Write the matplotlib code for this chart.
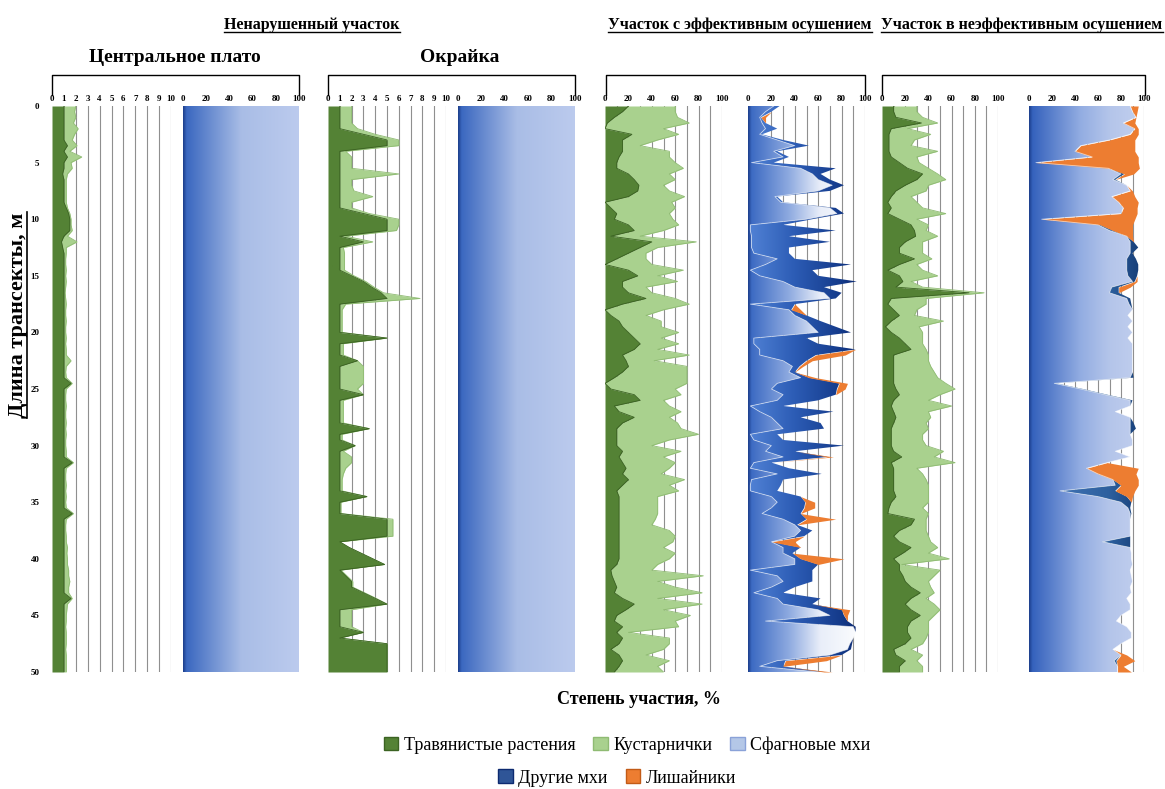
import numpy as np
import matplotlib.pyplot as plt
from matplotlib.colors import LinearSegmentedColormap
from matplotlib.patches import Patch
from matplotlib.lines import Line2D

plt.rcParams['font.family'] = ['Liberation Serif', 'DejaVu Serif']

# transect length, m (one reading every 0.5 m)
depth = np.arange(0, 50.5, 0.5)

# --- undisturbed site, central plateau (scale 0-10 %) ---
cp_herbs = [1.0, 1.0, 1.0, 1.0, 1.0, 1.0, 1.0, 1.3, 1.0, 1.3,
            1.0, 1.0, 0.9, 1.0, 1.0, 1.0, 1.0, 1.0, 1.2, 1.4,
            1.5, 1.5, 1.5, 1.0, 0.8, 0.9, 1.0, 1.0, 1.0, 1.0,
            1.0, 1.0, 1.0, 1.0, 1.0, 1.0, 1.0, 1.0, 1.0, 1.0,
            1.0, 1.0, 1.0, 1.0, 1.0, 1.0, 1.0, 1.0, 1.0, 1.6,
            1.0, 1.0, 1.0, 1.0, 1.0, 1.0, 1.0, 1.0, 1.0, 1.0,
            1.0, 1.0, 1.0, 1.7, 1.0, 1.0, 1.0, 1.0, 1.0, 1.0,
            1.0, 1.0, 1.7, 1.0, 1.0, 1.0, 1.0, 1.0, 1.0, 1.0,
            1.0, 1.0, 1.0, 1.0, 1.0, 1.0, 1.0, 1.6, 1.0, 1.0,
            1.0, 1.0, 1.0, 1.0, 1.0, 1.0, 1.0, 1.0, 1.0, 1.0,
            1.0]
cp_shrubs = [1.0, 0.9, 1.0, 0.8, 1.2, 0.9, 0.7, 0.8, 0.5, 1.2,
             0.6, 0.7, 0.4, 0.2, 0.2, 0.2, 0.2, 0.2, 0.1, 0.1,
             0.1, 0.1, 0.2, 0.3, 1.3, 0.3, 0.2, 0.15, 0.15, 0.2,
             0.15, 0.2, 0.15, 0.1, 0.15, 0.2, 0.15, 0.15, 0.2, 0.15,
             0.15, 0.2, 0.15, 0.2, 0.2, 0.6, 0.2, 0.15, 0.2, 0.1,
             0.2, 0.15, 0.15, 0.2, 0.15, 0.15, 0.2, 0.15, 0.2, 0.15,
             0.15, 0.2, 0.2, 0.1, 0.2, 0.15, 0.15, 0.2, 0.15, 0.2,
             0.15, 0.2, 0.1, 0.2, 0.15, 0.15, 0.2, 0.2, 0.3, 0.25,
             0.3, 0.3, 0.4, 0.4, 0.5, 0.4, 0.4, 0.1, 0.3, 0.25,
             0.2, 0.2, 0.15, 0.2, 0.2, 0.2, 0.15, 0.2, 0.2, 0.2,
             0.2]
cp_sphagnum = [100, 100, 100, 100, 100, 100, 100, 100, 100, 100,
               100, 100, 100, 100, 100, 100, 100, 100, 100, 100,
               100, 100, 100, 100, 100, 100, 100, 100, 100, 100,
               100, 100, 100, 100, 100, 100, 100, 100, 100, 100,
               100, 100, 100, 100, 100, 100, 100, 100, 100, 100,
               100, 100, 100, 100, 100, 100, 100, 100, 100, 100,
               100, 100, 100, 100, 100, 100, 100, 100, 100, 100,
               100, 100, 100, 100, 100, 100, 100, 100, 100, 100,
               100, 100, 100, 100, 100, 100, 100, 100, 100, 100,
               100, 100, 100, 100, 100, 100, 100, 100, 100, 100,
               100]

# --- undisturbed site, margin (scale 0-10 %) ---
ok_herbs = [1, 1, 1, 1, 1, 3, 5, 5, 1, 1,
            1, 1, 1, 1, 1, 1, 1, 1, 1, 3,
            5, 5, 5, 1, 3, 1, 1, 1, 1, 1,
            2, 3, 3.7, 4.5, 5, 1, 1, 1, 1, 1,
            1, 5, 1, 1, 1, 2.5, 1, 1, 1, 1,
            1, 3, 1, 1, 1, 1, 1, 3.5, 1, 1,
            2.3, 1, 1, 1, 1, 1, 1, 1, 1, 3.3,
            1, 1, 1, 5, 5, 5, 5, 1, 1.8, 2.8,
            3.8, 4.8, 1, 1.5, 2, 2, 3, 4, 5, 1,
            1, 1, 1, 3, 1, 5, 5, 5, 5, 5,
            5]
ok_shrubs = [1, 1, 1, 1, 1.5, 1, 1, 1, 0.5, 1,
             1, 1, 5, 1, 1, 1.2, 2.8, 1, 1, 0.5,
             1, 1, 0.8, 0.5, 0.8, 0.3, 0.4, 0.4, 0.4, 0.4,
             0.2, 0.2, 0.2, 0.2, 2.8, 0.5, 0.2, 0.2, 0.2, 0.2,
             0.2, 0, 0.3, 0.3, 0.3, 0, 2, 2, 2, 2,
             1.5, 0, 0.3, 0.3, 0.3, 0.3, 0.3, 0, 0.2, 0.2,
             0, 0.3, 1, 1, 0.5, 0.3, 0.2, 0.2, 0.2, 0,
             0.1, 0.1, 0.1, 0.5, 0.5, 0.5, 0.5, 0, 0, 0,
             0, 0, 0.1, 0.1, 0.1, 0.1, 0.1, 0.1, 0, 1,
             1, 1, 1, 0, 0, 0, 0, 0, 0, 0,
             0]
ok_sphagnum = cp_sphagnum

# --- effectively drained site ---
eff_herbs = [20, 15, 8, 2, 0, 23, 15, 15, 15, 12,
             10, 10, 20, 25, 29, 28, 20, 0, 5, 10,
             8, 20, 25, 5, 40, 30, 20, 10, 0, 20,
             28, 15, 15, 20, 35, 15, 0, 5, 12, 15,
             20, 25, 30, 25, 15, 18, 20, 15, 8, 0,
             5, 25, 30, 8, 12, 25, 15, 10, 10, 10,
             10, 15, 12, 15, 18, 15, 20, 15, 10, 12,
             12, 12, 12, 12, 12, 12, 12, 12, 12, 12,
             12, 10, 5, 6, 8, 10, 8, 15, 25, 18,
             10, 8, 15, 10, 15, 12, 5, 12, 15, 12,
             8]
eff_shrubs = [40, 45, 54, 70, 50, 40, 30, 15, 40, 43,
              50, 57, 35, 35, 21, 27, 48, 57, 55, 45,
              50, 43, 25, 25, 38, 15, 15, 25, 40, 47,
              17, 47, 20, 20, 25, 57, 50, 30, 36, 33,
              43, 23, 33, 20, 57, 24, 50, 55, 62, 70,
              55, 40, 20, 47, 53, 30, 47, 55, 70, 45,
              30, 50, 38, 45, 37, 33, 48, 40, 53, 33,
              33, 33, 33, 31, 28, 43, 48, 46, 38, 48,
              43, 35, 35, 78, 37, 50, 75, 30, 58, 32,
              63, 52, 48, 10, 40, 43, 45, 23, 40, 33,
              42]
eff_sphagnum = [22, 15, 10, 12, 15, 10, 25, 40, 22, 30,
                3, 45, 55, 60, 72, 60, 23, 28, 70, 76,
                50, 2, 2, 3, 3, 3, 5, 25, 15, 2,
                10, 30, 40, 65, 70, 2, 35, 40, 50, 55,
                60, 5, 5, 10, 10, 30, 38, 35, 45, 25,
                20, 30, 25, 2, 10, 20, 25, 30, 2, 5,
                20, 15, 30, 5, 2, 25, 3, 2, 2, 20,
                25, 20, 12, 30, 40, 45, 40, 20, 30, 30,
                40, 40, 2, 25, 30, 20, 5, 25, 30, 60,
                70, 15, 90, 92, 90, 87, 85, 70, 25, 10,
                60]
eff_other = [5, 5, 1, 3, 10, 2, 5, 12, 3, 5,
             19, 30, 7, 10, 10, 10, 2, 2, 5, 6,
             5, 28, 73, 32, 67, 32, 30, 15, 73, 53,
             50, 63, 25, 15, 5, 38, 2, 10, 12, 20,
             28, 45, 55, 82, 48, 20, 6, 5, 7, 53,
             56, 45, 35, 28, 63, 25, 37, 35, 23, 25,
             62, 25, 38, 15, 33, 38, 27, 26, 23, 25,
             24, 28, 33, 20, 2, 10, 8, 0, 15, 8,
             5, 20, 53, 30, 25, 20, 25, 37, 25, 20,
             12, 70, 2, 0, 0, 2, 3, 10, 7, 20,
             5]
eff_lichens = [0, 0, 4, 0, 0, 0, 0, 0, 0, 0,
               0, 0, 0, 0, 0, 0, 0, 0, 0, 0,
               0, 0, 0, 0, 0, 0, 0, 0, 0, 0,
               0, 0, 0, 0, 0, 0, 8, 0, 0, 0,
               0, 0, 0, 0, 25, 5, 3, 0, 6, 7,
               7, 0, 0, 0, 0, 0, 0, 0, 0, 0,
               0, 0, 5, 0, 0, 0, 0, 0, 0, 0,
               8, 9, 0, 25, 0, 0, 0, 20, 0, 0,
               37, 0, 0, 0, 0, 0, 0, 0, 0, 7,
               3, 0, 0, 0, 0, 0, 0, 0, 35, 0,
               7]

# --- ineffectively drained site ---
ineff_herbs = [10, 10, 12, 34, 8, 6, 6, 6, 6, 8,
               15, 22, 35, 30, 20, 12, 8, 5, 8, 5,
               15, 25, 28, 29, 20, 15, 15, 28, 15, 5,
               15, 18, 12, 75, 8, 5, 10, 15, 8, 3,
               8, 15, 20, 25, 10, 10, 10, 10, 10, 10,
               12, 15, 10, 8, 10, 12, 10, 8, 8, 8,
               8, 10, 17, 8, 10, 10, 10, 10, 10, 12,
               8, 6, 5, 28, 25, 15, 10, 15, 25, 18,
               10, 15, 15, 18, 20, 25, 33, 25, 20, 25,
               33, 25, 22, 22, 25, 20, 10, 12, 20, 15,
               15]
ineff_shrubs = [20, 20, 23, 14, 14, 36, 22, 19, 42, 22,
                17, 18, 13, 25, 20, 26, 17, 25, 27, 50,
                15, 15, 10, 19, 15, 20, 20, 15, 15, 30,
                33, 7, 23, 13, 30, 33, 20, 13, 45, 29,
                27, 20, 15, 13, 30, 30, 32, 35, 38, 45,
                51, 35, 30, 52, 30, 30, 28, 32, 27, 27,
                30, 43, 28, 55, 20, 25, 28, 30, 30, 28,
                32, 29, 35, 10, 13, 23, 30, 27, 23, 22,
                48, 2, 35, 27, 20, 17, 12, 13, 25, 25,
                12, 15, 18, 18, 13, 15, 15, 23, 10, 20,
                20]
ineff_sphagnum = [88, 90, 93, 82, 92, 88, 70, 45, 40, 55,
                  6, 69, 80, 73, 85, 88, 72, 78, 82, 80,
                  11, 60, 70, 85, 88, 88, 88, 85, 85, 85,
                  86, 90, 72, 70, 85, 87, 90, 86, 90, 86,
                  90, 86, 90, 90, 90, 90, 90, 90, 88, 22,
                  45, 66, 88, 88, 75, 88, 88, 88, 88, 90,
                  90, 75, 88, 68, 50, 60, 73, 75, 27, 60,
                  80, 86, 88, 88, 88, 88, 88, 64, 88, 89,
                  89, 90, 88, 89, 90, 88, 89, 85, 88, 88,
                  80, 76, 85, 89, 89, 80, 73, 80, 74, 77,
                  77]
ineff_other = [0, 0, 0, 0, 0, 0, 0, 0, 0, 0,
               0, 0, 3, 2, 0, 0, 0, 0, 0, 0,
               0, 2, 3, 0, 3, 7, 2, 8, 10, 10,
               8, 2, 6, 8, 3, 2, 0, 0, 0, 0,
               0, 0, 0, 0, 0, 0, 0, 0, 3, 2,
               2, 2, 2, 0, 0, 0, 3, 5, 0, 0,
               0, 0, 0, 0, 0, 0, 0, 5, 48, 25,
               9, 2, 1, 0, 0, 0, 0, 24, 0, 0,
               0, 0, 0, 0, 0, 0, 0, 0, 0, 0,
               0, 0, 0, 0, 0, 0, 0, 0, 2, 0,
               0]
ineff_lichens = [7, 4, 0, 10, 3, 7, 22, 47, 52, 40,
                 89, 27, 8, 0, 0, 2, 20, 17, 12, 14,
                 81, 28, 17, 5, 0, 0, 0, 0, 0, 0,
                 0, 2, 10, 0, 0, 0, 0, 0, 0, 0,
                 0, 0, 0, 0, 0, 0, 0, 0, 0, 0,
                 0, 0, 0, 0, 0, 0, 0, 0, 0, 0,
                 0, 0, 0, 0, 45, 33, 22, 15, 17, 5,
                 0, 0, 0, 0, 0, 0, 0, 0, 0, 0,
                 0, 0, 0, 0, 0, 0, 0, 0, 0, 0,
                 0, 0, 0, 0, 0, 0, 0, 5, 16, 5,
                 12]

legend_labels = ['Травянистые растения', 'Кустарнички', 'Сфагновые мхи',
                 'Другие мхи', 'Лишайники']

HERB = '#548235'
SHRUB = '#a9d18e'
LICHEN = '#ed7d31'
grad_full = [(0, '#1d3f8c'), (0.03, '#3b68c0'), (0.5, '#a9bde6'), (1, '#bccbee')]
grad_sph6 = [(0, '#1d3f8c'), (0.03, '#3d6bc3'), (0.35, '#8eaae0'), (0.62, '#e9eef9'), (1, '#ffffff')]
grad_oth6 = [(0, '#5283d6'), (0.4, '#2c5cb5'), (0.8, '#143a8a'), (1, '#0b2466')]
grad_sph8 = [(0, '#1d3f8c'), (0.03, '#3562bd'), (0.45, '#93ade2'), (0.7, '#b4c5ea'), (1, '#c3d0ef')]
grad_oth8 = [(0, '#4a7cc0'), (0.7, '#2d609e'), (1, '#143a73')]

W, H = 1165, 789
fig = plt.figure(figsize=(W / 100, H / 100), dpi=100)


def add_panel(x0, x1):
    return fig.add_axes([x0 / W, 1 - 672 / H, (x1 - x0) / W, (672 - 106) / H])


def style(ax, xmax, grid_step, label_step):
    ax.set_xlim(0, xmax)
    ax.set_ylim(50, 0)
    ax.xaxis.tick_top()
    ax.set_xticks(np.arange(0, xmax + 0.01, label_step))
    ax.tick_params(axis='x', length=0, pad=2, labelsize=6.5)
    for lbl in ax.get_xticklabels():
        lbl.set_fontweight('bold')
    ax.set_yticks([])
    for s in ax.spines.values():
        s.set_visible(False)
    for g in np.arange(grid_step, xmax + 0.01, grid_step):
        ax.axvline(g, color='#8f8f8f', lw=0.8, zorder=1)


def grad_fill(ax, left, right, stops, z):
    poly = ax.fill_betweenx(depth, left, right, facecolor='none', edgecolor='none', zorder=z)
    cmap = LinearSegmentedColormap.from_list('g', stops)
    img = ax.imshow(np.linspace(0, 1, 256).reshape(1, -1), cmap=cmap, aspect='auto',
                    extent=[0, 100, 50, 0], zorder=z, interpolation='bilinear')
    img.set_clip_path(poly.get_paths()[0], transform=ax.transData)


def green_panel(ax, herbs, shrubs, xmax, grid_step, label_step):
    herbs = np.array(herbs, dtype=float)
    total = herbs + np.array(shrubs, dtype=float)
    ax.fill_betweenx(depth, herbs, total, color=SHRUB, lw=0, zorder=2)
    ax.plot(total, depth, color='#8fbb73', lw=0.6, zorder=2)
    ax.fill_betweenx(depth, 0, herbs, color=HERB, lw=0, zorder=3)
    ax.plot(herbs, depth, color='#3b6322', lw=0.6, zorder=3)
    style(ax, xmax, grid_step, label_step)


def moss_panel(ax, sph, oth, lic, g_sph, g_oth):
    sph = np.array(sph, dtype=float)
    s_o = sph + np.array(oth, dtype=float)
    tot = s_o + np.array(lic, dtype=float)
    grad_fill(ax, 0, sph, g_sph, 2)
    grad_fill(ax, sph, s_o, g_oth, 3)
    ax.fill_betweenx(depth, s_o, tot, color=LICHEN, lw=0, zorder=4)
    ax.plot(sph, depth, color='white', lw=0.6, alpha=0.6, zorder=5)
    style(ax, 100, 10, 20)


# central plateau
ax1 = add_panel(52, 171)
green_panel(ax1, cp_herbs, cp_shrubs, 10, 1, 1)
ax1.set_yticks(np.arange(0, 51, 5))
ax1.tick_params(axis='y', length=0, pad=9, labelsize=6.5)
for lbl in ax1.get_yticklabels():
    lbl.set_fontweight('bold')

ax2 = add_panel(183, 299)
style(ax2, 100, 10, 20)
grad_fill(ax2, 0, np.array(cp_sphagnum, dtype=float), grad_full, 2)
ax2.set_xlim(0, 100); ax2.set_ylim(50, 0)

# margin
ax3 = add_panel(328, 446)
green_panel(ax3, ok_herbs, ok_shrubs, 10, 1, 1)

ax4 = add_panel(458, 575)
style(ax4, 100, 10, 20)
grad_fill(ax4, 0, np.array(ok_sphagnum, dtype=float), grad_full, 2)
ax4.set_xlim(0, 100); ax4.set_ylim(50, 0)

# effective drainage
ax5 = add_panel(605, 722)
green_panel(ax5, eff_herbs, eff_shrubs, 100, 10, 20)

ax6 = add_panel(748, 865)
moss_panel(ax6, eff_sphagnum, eff_other, eff_lichens, grad_sph6, grad_oth6)
ax6.set_xlim(0, 100); ax6.set_ylim(50, 0)

# ineffective drainage
ax7 = add_panel(882, 998)
green_panel(ax7, ineff_herbs, ineff_shrubs, 100, 10, 20)

ax8 = add_panel(1029, 1144)
moss_panel(ax8, ineff_sphagnum, ineff_other, ineff_lichens, grad_sph8, grad_oth8)
ax8.set_xlim(0, 100); ax8.set_ylim(50, 0)

# brackets over each pair of panels
for bx0, bx1 in [(52, 299), (328, 575), (606, 865), (882, 1145)]:
    fig.add_artist(Line2D([bx0 / W, bx0 / W, bx1 / W, bx1 / W],
                          [1 - 95 / H, 1 - 75 / H, 1 - 75 / H, 1 - 95 / H],
                          transform=fig.transFigure, color='black', lw=1))


def ftext(x, y, s, **kw):
    return fig.text(x / W, 1 - y / H, s, ha='center', va='center', fontweight='bold', **kw)


underlined = [
    ftext(312, 25, 'Ненарушенный участок', fontsize=11.5),
    ftext(740, 25, 'Участок с эффективным осушением', fontsize=11.5),
    ftext(1022, 25, 'Участок в неэффективным осушением', fontsize=11.5),
]
ftext(175, 57, 'Центральное плато', fontsize=14)
ftext(460, 57, 'Окрайка', fontsize=14)
ylab = ftext(18, 315, 'Длина трансекты, м', fontsize=16, rotation=90)
ftext(639, 700, 'Степень участия, %', fontsize=13)

handles = [Patch(facecolor=HERB, edgecolor='#3b6322'),
           Patch(facecolor=SHRUB, edgecolor='#8fbb73'),
           Patch(facecolor='#b4c7e7', edgecolor='#8aa2d8'),
           Patch(facecolor='#2f5597', edgecolor='#0d2a70'),
           Patch(facecolor=LICHEN, edgecolor='#c25b17')]
leg_kw = dict(loc='center', frameon=False, fontsize=13, handlelength=0.8, handleheight=0.8,
              handletextpad=0.3, columnspacing=1.0)
fig.legend(handles[:3], legend_labels[:3], ncol=3, bbox_to_anchor=(627 / W, 1 - 745 / H), **leg_kw)
fig.legend(handles[3:], legend_labels[3:], ncol=2, bbox_to_anchor=(617 / W, 1 - 778 / H), **leg_kw)

# underline the headings
fig.canvas.draw()
r = fig.canvas.get_renderer()
for t in underlined:
    bb = t.get_window_extent(r)
    yy = (bb.y0 + 1) / fig.bbox.height
    fig.add_artist(Line2D([bb.x0 / fig.bbox.width, bb.x1 / fig.bbox.width], [yy, yy],
                          transform=fig.transFigure, color='black', lw=1))
bb = ylab.get_window_extent(r)
xx = (bb.x1 - 1) / fig.bbox.width
fig.add_artist(Line2D([xx, xx], [bb.y0 / fig.bbox.height, bb.y1 / fig.bbox.height],
                      transform=fig.transFigure, color='black', lw=1.2))

fig.savefig('out.png', dpi=100)
